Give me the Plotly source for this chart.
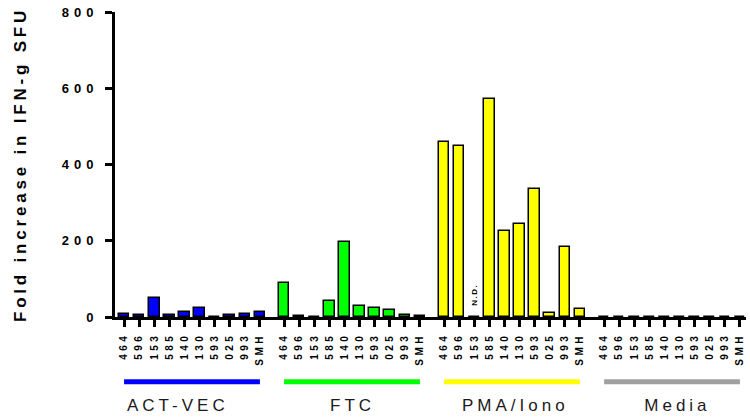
import plotly.graph_objects as go

# Sample IDs shown under every stimulation group
samples = ["464", "596", "153", "585", "140", "130", "593", "025", "993", "SMH"]

groups = ["ACT-VEC", "FTC", "PMA/Iono", "Media"]

# Fold increase in IFN-g spot forming units per sample
act_vec = [8, 4, 50, 5, 14, 23, 0, 4, 7, 12]
ftc = [88, 3, 0, 43, 197, 28, 24, 18, 4, 3]
pma_iono = [460, 448, 0, 572, 225, 244, 336, 10, 183, 22]
media = [0, 0, 0, 0, 0, 0, 0, 0, 0, 0]

y_ticks = [0, 200, 400, 600, 800]

series = [act_vec, ftc, pma_iono, media]
colors = ["#0000FF", "#00FF00", "#FFFF00", "#A0A0A0"]

GROUP_STEP = 10.6          # distance between first samples of adjacent groups
X_MIN, X_MAX = -0.6, 41.2  # x-axis range


def xpos(g, i):
    return g * GROUP_STEP + i


def to_paper(x):
    return (x - X_MIN) / (X_MAX - X_MIN)


fig = go.Figure()
tickvals, ticktext = [], []
for g, (vals, col) in enumerate(zip(series, colors)):
    xs = [xpos(g, i) for i in range(len(samples))]
    tickvals += xs
    ticktext += samples
    fig.add_trace(go.Bar(
        x=xs, y=vals, width=0.7,
        marker=dict(color=col, line=dict(color="black", width=1.5)),
        name=groups[g], showlegend=False,
    ))

font_family = "Arial, 'Liberation Sans', sans-serif"

# Group underline bars and group names below the sample labels
label_shift = [-14, 0, 3, 5]
for g, name in enumerate(groups):
    x0 = to_paper(xpos(g, 0))
    x1 = to_paper(xpos(g, 9))
    fig.add_shape(type="line", xref="paper", yref="paper",
                  x0=x0, x1=x1, y0=-0.212, y1=-0.212,
                  line=dict(color=colors[g], width=5))
    fig.add_annotation(x=xpos(g, 4.5), y=-0.29, xref="x", yref="paper",
                       yanchor="middle", xanchor="center",
                       text=name, showarrow=False, xshift=label_shift[g],
                       font=dict(family=font_family, size=17, color="#1a1a1a"))

# Not-determined marker for PMA/Iono sample 153
nd_idx = samples.index("153")
fig.add_annotation(x=xpos(2, nd_idx), y=59, xref="x", yref="y", text="N.D.",
                   showarrow=False, textangle=-90,
                   font=dict(family=font_family, size=8, color="black", weight="bold"))

fig.update_layout(
    width=750, height=417,
    margin=dict(l=115, r=4, t=12, b=100),
    plot_bgcolor="white", paper_bgcolor="white",
    bargap=0, barmode="overlay",
    font=dict(family=font_family, color="black"),
)
fig.update_xaxes(
    range=[X_MIN, X_MAX], tickmode="array", tickvals=tickvals, ticktext=ticktext,
    tickangle=-90, ticks="outside", ticklen=7, tickwidth=2.5, tickcolor="black",
    showline=True, linecolor="black", linewidth=3, showgrid=False, zeroline=False,
    tickfont=dict(size=10, weight="bold", color="black"),
)
fig.update_yaxes(
    range=[0, 800], tickmode="array", tickvals=y_ticks,
    ticktext=[str(v) for v in y_ticks],
    ticks="outside", ticklen=7, tickwidth=2.5, tickcolor="black",
    showline=True, linecolor="black", linewidth=3, showgrid=False, zeroline=False,
    tickfont=dict(size=13, weight="bold", color="black"),
    title=dict(text="Fold increase in IFN-g SFU", standoff=50,
               font=dict(size=17, weight="bold", color="black")),
)

# Wide letter spacing for axis texts and group names, keeping each text anchored
post = """
function spaceText(sel, px, anchor) {
  document.querySelectorAll(sel).forEach(function (t) {
    var b0 = t.getBoundingClientRect();
    t.style.letterSpacing = px + 'px';
    var b1 = t.getBoundingClientRect();
    var dx = 0, dy = 0;
    if (anchor === 'right') { dx = b0.right - b1.right - 4; }
    else if (anchor === 'top') { dy = b0.top - b1.top + 2; }
    else {
      dx = (b0.left + b0.right) / 2 - (b1.left + b1.right) / 2;
      dy = (b0.top + b0.bottom) / 2 - (b1.top + b1.bottom) / 2;
    }
    t.setAttribute('transform', 'translate(' + dx + ',' + dy + ') ' + (t.getAttribute('transform') || ''));
  });
}
spaceText('.ytick text', 5, 'right');
spaceText('.xtick text', 3.5, 'top');
spaceText('.ytitle', 3.8, 'center');
document.querySelectorAll('.annotation-text').forEach(function (t) {
  var b0 = t.getBoundingClientRect();
  t.style.letterSpacing = (t.textContent === 'N.D.') ? '1.5px' : '4px';
  var b1 = t.getBoundingClientRect();
  var dx = (b0.left + b0.right) / 2 - (b1.left + b1.right) / 2;
  var dy = (b0.top + b0.bottom) / 2 - (b1.top + b1.bottom) / 2;
  t.setAttribute('transform', 'translate(' + dx + ',' + dy + ') ' + (t.getAttribute('transform') || ''));
});
"""

fig.write_html("out.html", post_script=post)
